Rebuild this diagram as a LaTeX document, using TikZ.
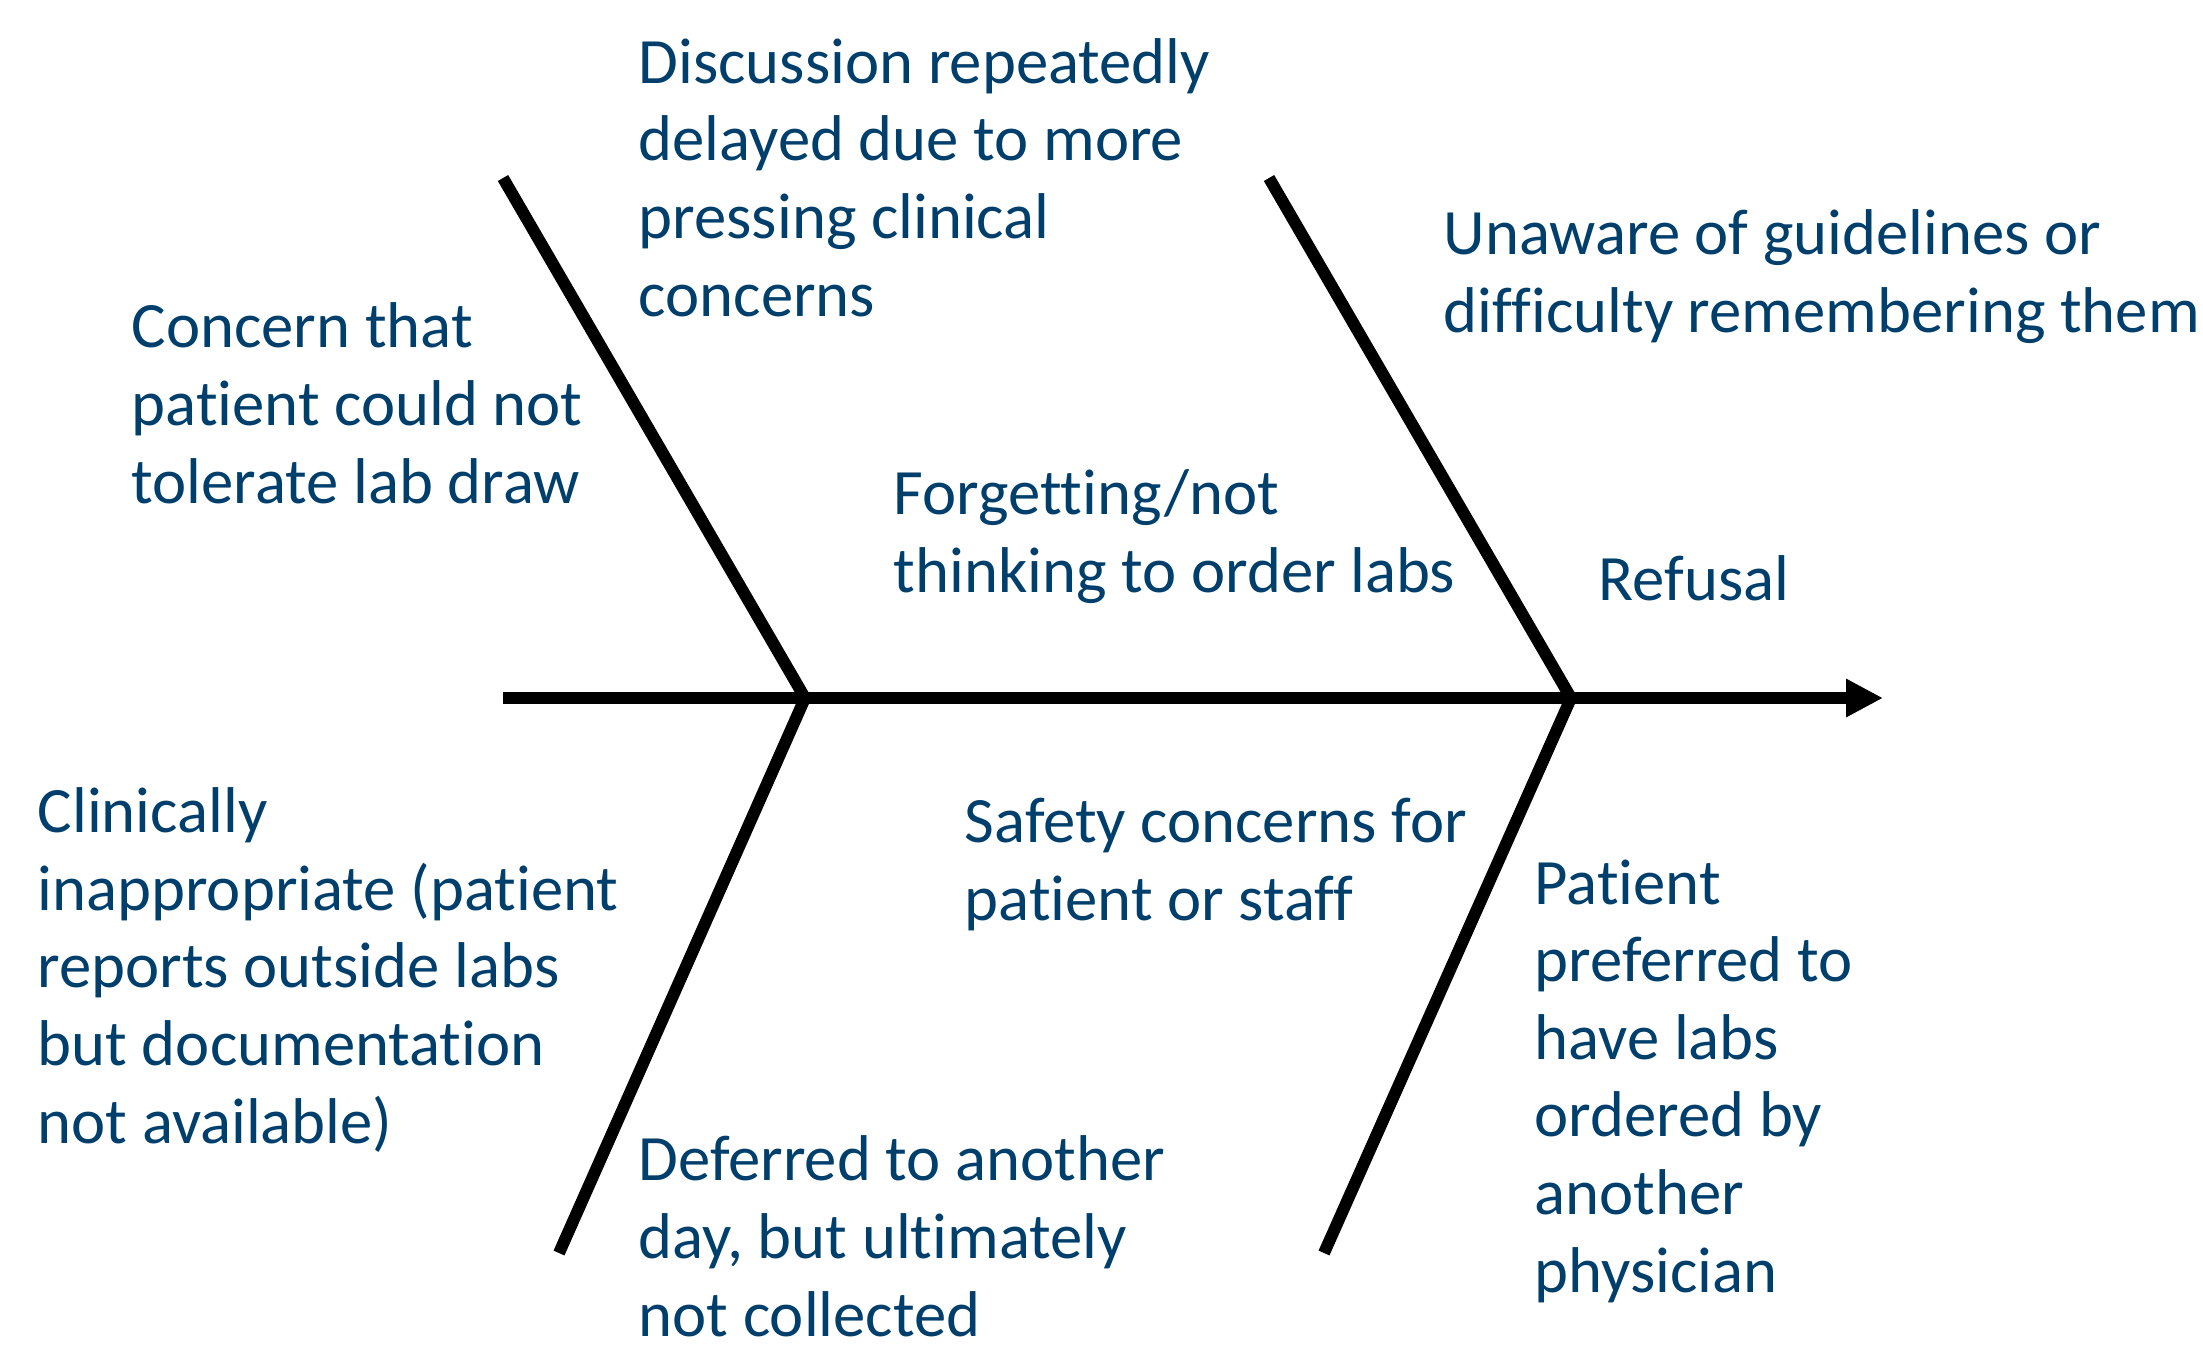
\documentclass[tikz,border=0pt]{standalone}
\usepackage{fontspec}
\setmainfont{Carlito}[Ligatures=NoCommon]
\usetikzlibrary{arrows.meta}
\definecolor{causeblue}{RGB}{0,63,108}

\begin{document}
\begin{tikzpicture}[x=0.01cm, y=-0.01cm,
	bone/.style={line width=3.4pt, line cap=butt},
	cause/.style={anchor=base west, inner sep=0pt, align=left, text=causeblue,
		font=\fontsize{18.4}{22.05}\selectfont}]

	\useasboundingbox (0, 0) rectangle (2203, 1344);

	% spine and the points where the bones meet it
	\coordinate (tail) at (503, 698);
	\coordinate (head) at (1883, 698);
	\coordinate (j1) at (805, 698);
	\coordinate (j2) at (1571, 698);

	% free ends of the bones
	\coordinate (b1u) at (503, 178);
	\coordinate (b2u) at (1269, 178);
	\coordinate (b1d) at (559, 1253);
	\coordinate (b2d) at (1324, 1253);

	\draw[bone, -{Triangle[length=0.37cm, width=0.36cm]}] (tail) -- (head);
	\draw[bone] (b1u) -- (j1);
	\draw[bone] (b2u) -- (j2);
	\draw[bone] (b1d) -- (j1);
	\draw[bone] (b2d) -- (j2);

	% causes above the spine (placed at the baseline of their last line)
	\node[cause] (discussion) at (638, 316) {Discussion repeatedly\\delayed due to more\\pressing clinical\\concerns};
	\node[cause] (tolerate) at (131, 503) {Concern that\\patient could not\\tolerate lab draw};
	\node[cause] (unaware) at (1443, 332) {Unaware of guidelines or\\difficulty remembering them};
	\node[cause] (forgetting) at (893, 592) {Forgetting/not\\thinking to order labs};
	\node[cause] (refusal) at (1598, 600) {Refusal};

	% causes below the spine
	\node[cause] (inappropriate) at (37, 1143) {Clinically\\inappropriate (patient\\reports outside labs\\but documentation\\not available)};
	\node[cause] (safety) at (964, 920) {Safety concerns for\\patient or staff};
	\node[cause] (deferred) at (638, 1336) {Deferred to another\\day, but ultimately\\not collected};
	\node[cause] (preferred) at (1534, 1292) {Patient\\preferred to\\have labs\\ordered by\\another\\physician};
\end{tikzpicture}
\end{document}
